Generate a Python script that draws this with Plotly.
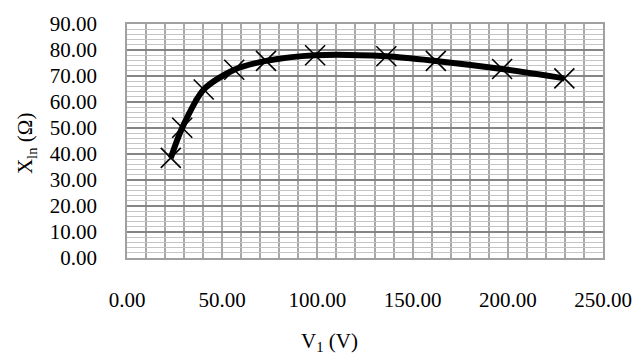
import plotly.graph_objects as go

v1 = [23.0, 29.0, 40.3, 56.3, 73.0, 98.8, 136.2, 162.2, 197.0, 229.7]
xln = [38.5, 50.1, 64.8, 72.4, 75.8, 78.0, 77.6, 75.8, 72.7, 69.1]

x_ticks = [0, 50, 100, 150, 200, 250]
y_ticks = [0, 10, 20, 30, 40, 50, 60, 70, 80, 90]

FONT = "Liberation Serif, Times New Roman, serif"
FS = 21

fig = go.Figure()
fig.add_trace(go.Scatter(
    x=v1, y=xln, mode="lines+markers",
    line=dict(color="black", width=6, shape="spline", smoothing=0.8),
    marker=dict(symbol="x-thin", size=20, line=dict(color="black", width=1.6), color="black"),
    showlegend=False,
))

pw = 644 - 127 - 33
ph = 360 - 13 - 102

def px(x):
    return (x - 127) / pw

def py(y):
    return (360 - 102 - y) / ph

fig.update_layout(
    width=644, height=360,
    margin=dict(l=127, r=33, t=13, b=102),
    paper_bgcolor="white", plot_bgcolor="white",
    font=dict(family=FONT, size=FS, color="black"),
    xaxis=dict(
        range=[0, 250], tickvals=x_ticks, ticktext=[f"{v:.2f}" for v in x_ticks],
        showgrid=True, gridcolor="#a8a8a8", gridwidth=1.5,
        minor=dict(dtick=10, tick0=0, showgrid=True, gridcolor="#a8a8a8", gridwidth=1.5),
        showline=True, linecolor="#a0a0a0", linewidth=1.5, mirror=True,
        ticks="", ticklabelstandoff=22, zeroline=False,
    ),
    yaxis=dict(
        range=[0, 90], tickvals=y_ticks, ticktext=[f"{v:.2f}" for v in y_ticks],
        showgrid=True, gridcolor="#858585", gridwidth=1.5,
        minor=dict(dtick=2, tick0=0, showgrid=True, gridcolor="#c4c4c4", gridwidth=1),
        showline=True, linecolor="#a0a0a0", linewidth=1.5, mirror=True,
        ticks="", ticklabelstandoff=24, zeroline=False,
    ),
    annotations=[
        dict(text="V<sub>1</sub> (V)", x=px(333), y=py(346), xref="paper", yref="paper",
             xanchor="center", yanchor="middle",
             showarrow=False, font=dict(family=FONT, size=FS)),
        dict(text="X<sub>ln</sub> (Ω)", x=px(25), y=py(138), xref="paper", yref="paper",
             xanchor="center", yanchor="middle",
             showarrow=False, textangle=-90, font=dict(family=FONT, size=FS)),
    ],
)

fig.write_html("out.html")
